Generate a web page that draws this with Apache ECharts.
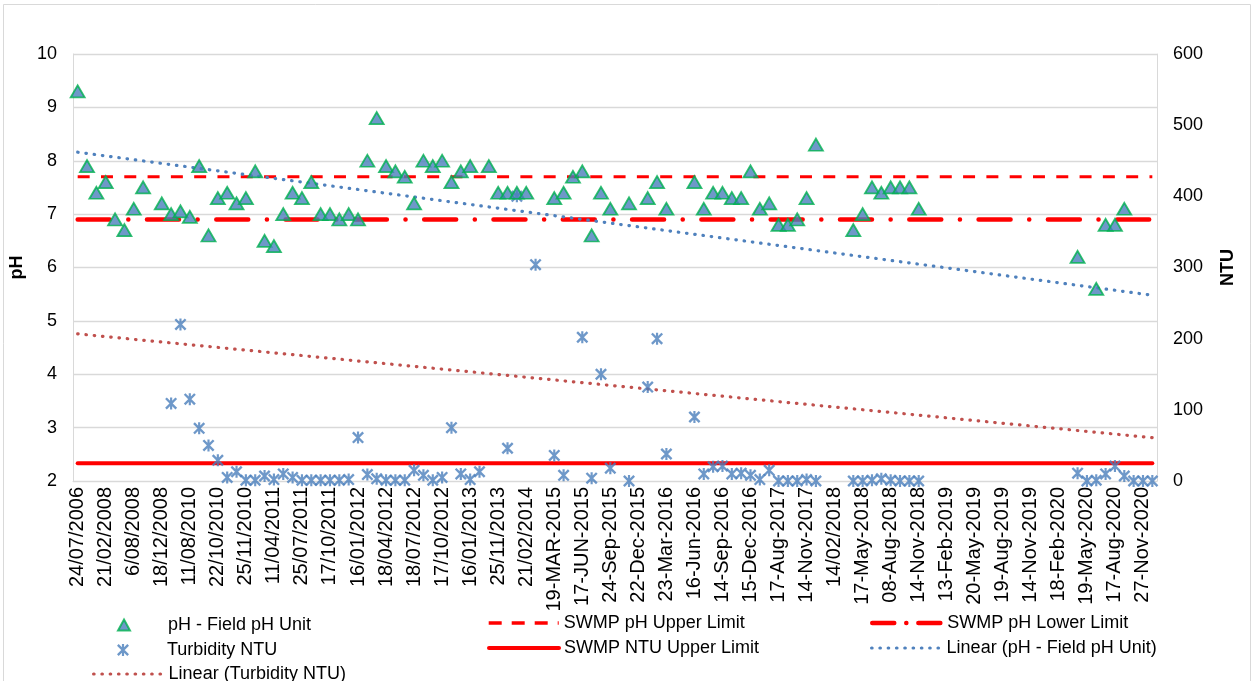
<!DOCTYPE html>
<html>
<head>
<meta charset="utf-8">
<script src="https://cdn.jsdelivr.net/npm/echarts@6/dist/echarts.min.js"></script>
<style>
html,body{margin:0;padding:0;background:#fff;}
#c{width:1255px;height:681px;}
</style>
</head>
<body>
<div id="c"></div>
<script>
// Tick labels shown on the category axis (every third sample)
const tickLabels = ['24/07/2006','21/02/2008','6/08/2008','18/12/2008','11/08/2010','22/10/2010','25/11/2010','11/04/2011','25/07/2011','17/10/2011','16/01/2012','18/04/2012','18/07/2012','17/10/2012','16/01/2013','25/11/2013','21/02/2014','19-MAR-2015','17-JUN-2015','24-Sep-2015','22-Dec-2015','23-Mar-2016','16-Jun-2016','14-Sep-2016','15-Dec-2016','17-Aug-2017','14-Nov-2017','14/02/2018','17-May-2018','08-Aug-2018','14-Nov-2018','13-Feb-2019','20-May-2019','19-Aug-2019','14-Nov-2019','18-Feb-2020','19-May-2020','17-Aug-2020','27-Nov-2020'];
const categoryCount = 116;

// pH - Field pH Unit (one per sample, null = not measured)
const phValues = [
 9.3,7.9,7.4,7.6,6.9,6.7,7.1,7.5,null,7.2,
 7.0,7.05,6.95,7.9,6.6,7.3,7.4,7.2,7.3,7.8,
 6.5,6.4,7.0,7.4,7.3,7.6,7.0,7.0,6.9,7.0,
 6.9,8.0,8.8,7.9,7.8,7.7,7.2,8.0,7.9,8.0,
 7.6,7.8,7.9,null,7.9,7.4,7.4,7.4,7.4,null,
 null,7.3,7.4,7.7,7.8,6.6,7.4,7.1,null,7.2,
 null,7.3,7.6,7.1,null,null,7.6,7.1,7.4,7.4,
 7.3,7.3,7.8,7.1,7.2,6.8,6.8,6.9,7.3,8.3,
 null,null,null,6.7,7.0,7.5,7.4,7.5,7.5,7.5,
 7.1,null,null,null,null,null,null,null,null,null,
 null,null,null,null,null,null,null,6.2,null,5.6,
 6.8,6.8,7.1,null,null,null
];

// Turbidity NTU
const ntuValues = [
 null,null,null,null,null,null,null,null,null,null,
 109,220,115,74,50,29,5,13,1,1,
 7,2,10,5,1,1,1,1,1,2,
 61,9,3,1,1,1,15,8,1,5,
 75,10,2,13,null,null,46,400,null,304,
 null,36,8,null,202,4,150,18,null,0,
 null,132,200,38,null,null,90,10,20,21,
 10,11,8,2,15,0,0,0,2,0,
 null,null,null,0,0,1,3,1,0,0,
 0,null,null,null,null,null,null,null,null,null,
 null,null,null,null,null,null,null,11,0,1,
 10,21,7,0,0,0
];

// Limits
const phUpperLimit = 7.7;
const phLowerLimit = 6.9;
const ntuUpperLimit = 25;

// Linear trend end values (first sample, last sample)
const phTrendEnds = [8.16, 5.48];
const ntuTrendEnds = [206.7, 60.8];

const categories = [];
for (let i = 0; i < categoryCount; i++) {
  categories.push(i % 3 === 0 ? tickLabels[i / 3] : '');
}
const lastIdx = categoryCount - 1;
const ends = (a, b) => [[0, a], [lastIdx, b]];

const FONT = '"Liberation Sans", Arial, sans-serif';
const starPath = 'path://M4.1,0L5.9,0L5.9,10L4.1,10Z M0,1.4L1.4,0L10,8.6L8.6,10Z M8.6,0L10,1.4L1.4,10L0,8.6Z';

const chart = echarts.init(document.getElementById('c'), null, {renderer: 'canvas'});

function lgLine(name, left, top, lineStyle) {
  return {
    data: [name], left: left, top: top, itemWidth: 70, itemHeight: 14,
    padding: 0, selectedMode: false, orient: 'horizontal',
    itemStyle: {opacity: 0},
    lineStyle: lineStyle,
    textStyle: {fontSize: 18, color: '#000', fontFamily: FONT}
  };
}
function lgMark(name, left, top, w, h) {
  return {
    data: [name], left: left, top: top, itemWidth: w, itemHeight: h,
    padding: 0, selectedMode: false, orient: 'horizontal',
    textStyle: {fontSize: 18, color: '#000', fontFamily: FONT, padding: [0, 0, 0, 167 - left - w - 5]}
  };
}

const option = {
  animation: false,
  backgroundColor: '#fff',
  graphic: [{
    type: 'rect', shape: {x: 3.5, y: 4.5, width: 1247, height: 700},
    style: {fill: 'none', stroke: '#d9d9d9', lineWidth: 1}, silent: true, z: -10
  }],
  grid: {left: 73, right: 98, top: 54, bottom: 200, containLabel: false},
  legend: [
    lgMark('pH - Field pH Unit', 117, 616, 12, 11),
    lgMark('Turbidity NTU', 117, 641, 12, 12),
    lgLine('Linear (Turbidity NTU)', 92, 665, {width: 3.2, type: [0.5, 7.8], cap: 'round', color: '#c0504d'}),
    lgLine('SWMP pH Upper Limit', 487, 614, {width: 3.4, type: [13, 10], cap: 'butt', color: '#ff0000'}),
    lgLine('SWMP NTU Upper Limit', 487, 639, {width: 4, type: 'solid', cap: 'round', color: '#ff0000'}),
    lgLine('SWMP pH Lower Limit', 870, 614, {width: 4.5, type: [22, 12, 0.1, 12], cap: 'round', color: '#ff0000'}),
    lgLine('Linear (pH - Field pH Unit)', 870, 639, {width: 3.2, type: [0.5, 7.8], cap: 'round', color: '#4f81bd'})
  ],
  xAxis: {
    type: 'category', data: categories, boundaryGap: true,
    axisLine: {show: true, lineStyle: {color: '#d9d9d9', width: 1}},
    axisTick: {show: false},
    axisLabel: {interval: 0, rotate: 90, margin: 6, fontSize: 20, color: '#000', fontFamily: FONT},
    splitLine: {show: false}
  },
  yAxis: [{
    type: 'value', min: 2, max: 10, interval: 1, position: 'left',
    name: 'pH', nameLocation: 'middle', nameRotate: 90, nameGap: 41,
    nameTextStyle: {fontSize: 18, fontWeight: 'bold', color: '#000', fontFamily: FONT},
    axisLine: {show: true, lineStyle: {color: '#d9d9d9', width: 1}},
    axisTick: {show: false},
    axisLabel: {fontSize: 18, color: '#000', margin: 16, fontFamily: FONT},
    splitLine: {show: true, lineStyle: {color: '#d9d9d9', width: 1.3}}
  }, {
    type: 'value', min: 0, max: 600, interval: 100, position: 'right',
    name: 'NTU', nameLocation: 'middle', nameRotate: 90, nameGap: 62,
    nameTextStyle: {fontSize: 18, fontWeight: 'bold', color: '#000', fontFamily: FONT},
    axisLine: {show: true, lineStyle: {color: '#d9d9d9', width: 1}},
    axisTick: {show: false},
    axisLabel: {fontSize: 18, color: '#000', margin: 16, fontFamily: FONT},
    splitLine: {show: false}
  }],
  series: [
    {
      name: 'SWMP pH Upper Limit', type: 'line', yAxisIndex: 0, data: ends(phUpperLimit, phUpperLimit),
      symbol: 'none', silent: true, z: 2,
      lineStyle: {color: '#ff0000', width: 3.2, type: [12, 11.3], cap: 'butt'},
      itemStyle: {color: '#ff0000'}
    },
    {
      name: 'SWMP pH Lower Limit', type: 'line', yAxisIndex: 0, data: ends(phLowerLimit, phLowerLimit),
      symbol: 'none', silent: true, z: 2,
      lineStyle: {color: '#ff0000', width: 4.5, type: [32, 18.6, 0.1, 18.6], cap: 'round'},
      itemStyle: {color: '#ff0000'}
    },
    {
      name: 'SWMP NTU Upper Limit', type: 'line', yAxisIndex: 1, data: ends(ntuUpperLimit, ntuUpperLimit),
      symbol: 'none', silent: true, z: 2,
      lineStyle: {color: '#ff0000', width: 4, type: 'solid', cap: 'round'},
      itemStyle: {color: '#ff0000'}
    },
    {
      name: 'Linear (pH - Field pH Unit)', type: 'line', yAxisIndex: 0, data: ends(phTrendEnds[0], phTrendEnds[1]),
      symbol: 'none', silent: true, z: 3,
      lineStyle: {color: '#4f81bd', width: 3.2, type: [0.5, 7.8], cap: 'round'},
      itemStyle: {color: '#4f81bd'}
    },
    {
      name: 'Linear (Turbidity NTU)', type: 'line', yAxisIndex: 1, data: ends(ntuTrendEnds[0], ntuTrendEnds[1]),
      symbol: 'none', silent: true, z: 3,
      lineStyle: {color: '#c0504d', width: 3.2, type: [0.5, 7.8], cap: 'round'},
      itemStyle: {color: '#c0504d'}
    },
    {
      name: 'Turbidity NTU', type: 'scatter', yAxisIndex: 1, data: ntuValues,
      symbol: starPath, symbolSize: [12, 12], z: 5,
      itemStyle: {color: '#4a7ebb'}
    },
    {
      name: 'pH - Field pH Unit', type: 'scatter', yAxisIndex: 0, data: phValues,
      symbol: 'triangle', symbolSize: [14, 12], z: 6,
      itemStyle: {color: '#4a7ebb', borderColor: '#00b050', borderWidth: 1.8}
    }
  ]
};
chart.setOption(option);
</script>
</body>
</html>
